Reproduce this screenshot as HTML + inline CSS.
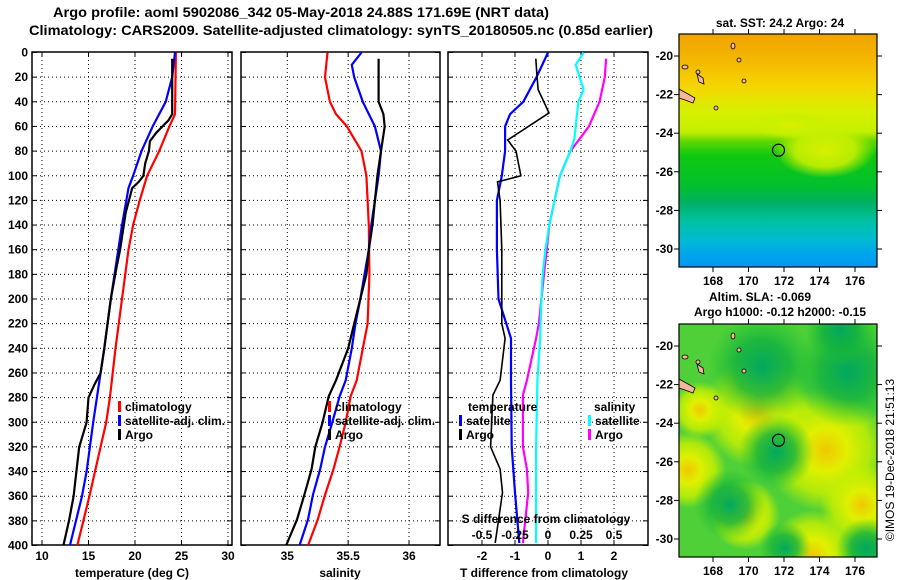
<!DOCTYPE html>
<html><head><meta charset="utf-8"><style>
html,body{margin:0;padding:0;background:#fff;}
svg{display:block;font-family:"Liberation Sans",sans-serif;font-weight:bold;}
text{font-size:12px;fill:#000;}
</style></head><body>
<svg id="fig" width="900" height="580" viewBox="0 0 900 580" xmlns="http://www.w3.org/2000/svg">
<defs>
 <clipPath id="cp1"><rect x="32" y="52" width="200" height="493"/></clipPath>
 <clipPath id="cp2"><rect x="241" y="52" width="199" height="493"/></clipPath>
 <clipPath id="cp3"><rect x="448" y="52" width="200" height="493"/></clipPath>
 <clipPath id="cpm1"><rect x="679" y="34" width="198" height="233"/></clipPath>
 <clipPath id="cpm2"><rect x="679" y="324" width="198" height="233"/></clipPath>
 <linearGradient id="sstg" x1="0" y1="34" x2="0" y2="267" gradientUnits="userSpaceOnUse">
  <stop offset="0" stop-color="#f0a400"/><stop offset="0.1" stop-color="#f4b400"/>
  <stop offset="0.22" stop-color="#f6d400"/><stop offset="0.33" stop-color="#d8f000"/>
  <stop offset="0.42" stop-color="#c4f000"/><stop offset="0.46" stop-color="#60d800"/>
  <stop offset="0.52" stop-color="#10c810"/><stop offset="0.66" stop-color="#00c030"/>
  <stop offset="0.72" stop-color="#00b060"/><stop offset="0.8" stop-color="#00c0a0"/>
  <stop offset="0.88" stop-color="#00bcd0"/><stop offset="0.95" stop-color="#00a4f0"/>
  <stop offset="1" stop-color="#0098f0"/>
 </linearGradient>
 <radialGradient id="yb"><stop offset="0" stop-color="#f0c800"/><stop offset="0.35" stop-color="#e0f000"/><stop offset="0.7" stop-color="#c8f000" stop-opacity="0.8"/><stop offset="1" stop-color="#c8f000" stop-opacity="0"/></radialGradient>
 <radialGradient id="yl"><stop offset="0" stop-color="#d8f000"/><stop offset="0.6" stop-color="#c8f000" stop-opacity="0.9"/><stop offset="1" stop-color="#c8f000" stop-opacity="0"/></radialGradient>
 <radialGradient id="db"><stop offset="0" stop-color="#00a860"/><stop offset="0.5" stop-color="#10b040" stop-opacity="0.8"/><stop offset="1" stop-color="#20c030" stop-opacity="0"/></radialGradient>
</defs>
<rect width="900" height="580" fill="#fff"/>
<text x="301" y="17" text-anchor="middle" textLength="496" lengthAdjust="spacingAndGlyphs" style="font-size:14px">Argo profile: aoml 5902086_342 05-May-2018 24.88S 171.69E (NRT data)</text>
<text x="341" y="35" text-anchor="middle" textLength="624" lengthAdjust="spacingAndGlyphs" style="font-size:14px">Climatology: CARS2009. Satellite-adjusted climatology: synTS_20180505.nc (0.85d earlier)</text>
<g id="panels"></g>
<g id="maps"></g>
<text transform="translate(894,460) rotate(-90)" text-anchor="middle" style="font-size:12px;font-weight:normal">©IMOS 19-Dec-2018 21:51:13</text>
</svg>
<script>
// ---- data (depth in m) ----
const depthTicks = [0,20,40,60,80,100,120,140,160,180,200,220,240,260,280,300,320,340,360,380,400];
const tempTicks = [10,15,20,25,30];
const salTicks = [35,35.5,36];
const tdiffTicks = [-2,-1,0,1,2];
const sdiffTicks = [-0.5,-0.25,0,0.25,0.5];
const sdiffLabels = ["-0.5","-0.25","0","0.25","0.5"];

const climTdepth = [0,50,60,80,100,120,140,160,200,240,280,300,340,360,400];
const climTval   = [24.4,24.3,23.7,22.6,21.3,20.5,19.8,19.3,18.6,17.9,17.3,16.9,15.7,15.1,13.8];
const satTdepth  = [0,20,40,60,80,100,110,140,160,200,240,260,300,340,360,400];
const satTval    = [24.3,24.0,23.3,21.9,20.7,19.8,19.3,18.6,18.2,17.4,16.7,16.3,15.5,14.8,14.3,13.0];
const argoTdepth = [5,20,50,55,65,72,80,90,100,105,110,130,160,175,200,240,260,270,280,300,315,320,360,380,400];
const argoTval   = [24.0,24.0,24.0,23.6,22.3,21.6,21.5,21.1,20.9,20.4,19.7,19.0,18.4,18.0,17.4,16.7,16.3,15.6,15.0,14.8,14.2,14.0,13.4,12.9,12.3];

const climSdepth = [0,20,40,50,60,70,80,100,140,180,220,266,279,300,320,338,359,379,400];
const climSval   = [35.33,35.31,35.35,35.40,35.49,35.55,35.61,35.65,35.67,35.675,35.66,35.57,35.52,35.48,35.43,35.38,35.31,35.25,35.17];
const satSdepth  = [0,10,20,40,60,80,100,140,160,200,220,240,266,279,300,320,338,359,379,400];
const satSval    = [35.61,35.53,35.55,35.62,35.72,35.77,35.75,35.69,35.67,35.60,35.56,35.53,35.48,35.43,35.37,35.31,35.27,35.21,35.17,35.10];
const argoSdepth = [5,40,50,60,80,100,140,160,180,200,220,240,266,279,300,320,338,359,379,400];
const argoSval   = [35.75,35.75,35.79,35.80,35.77,35.74,35.70,35.67,35.65,35.60,35.55,35.50,35.40,35.34,35.29,35.23,35.20,35.14,35.08,34.99];

const satTdDepth = [0,20,40,50,60,80,100,120,160,200,232,266,320,357,398];
const satTdVal   = [0.0,-0.35,-0.75,-1.15,-1.3,-1.3,-1.4,-1.55,-1.55,-1.5,-1.12,-1.12,-1.1,-1.0,-0.87];
const argoTdDepth = [5,20,30,49,71,80,100,105,120,160,200,220,232,266,278,320,338,357,398];
const argoTdVal   = [-0.37,-0.33,-0.3,0.03,-1.22,-0.97,-0.82,-1.53,-1.45,-1.4,-1.4,-1.4,-1.3,-1.45,-1.67,-1.74,-1.45,-1.38,-1.6];
const satSdDepth = [0,10,20,30,40,60,70,80,100,120,140,160,180,200,232,266,320,398];
const satSdVal   = [0.27,0.21,0.24,0.27,0.23,0.21,0.2,0.17,0.09,0.05,0.01,-0.02,-0.04,-0.05,-0.06,-0.08,-0.09,-0.09];
const argoSdDepth = [5,20,40,60,70,80,100,140,160,180,200,220,232,266,278,320,338,357,398];
const argoSdVal   = [0.44,0.43,0.39,0.31,0.24,0.17,0.09,0.01,-0.01,-0.03,-0.05,-0.07,-0.09,-0.16,-0.19,-0.19,-0.16,-0.15,-0.19];

// ---- axis functions ----
const NS="http://www.w3.org/2000/svg";
const yD = d => 52.5 + d*1.2325;
const xT = t => 42 + (t-10)*9.3;
const xS = s => 287.3 + (s-35)*121.7;
const xTd = v => 548 + v*33;
const xSd = v => 548 + v*132;
function mk(tag, attrs, parent){const e=document.createElementNS(NS,tag);for(const k in attrs)e.setAttribute(k,attrs[k]);parent.appendChild(e);return e;}
const P=document.getElementById('panels');

function panel(x0,w,clip,name,xticks,xf){
  const g=mk('g',{},P);
  
  
  depthTicks.forEach(d=>{ if(d>0&&d<400) mk('line',{x1:x0,x2:x0+w,y1:yD(d),y2:yD(d),stroke:'#000','stroke-width':1,'stroke-dasharray':'1,3'},g);
    mk('line',{x1:x0,x2:x0+5,y1:yD(d),y2:yD(d),stroke:'#000'},g); mk('line',{x1:x0+w-5,x2:x0+w,y1:yD(d),y2:yD(d),stroke:'#000'},g);});
  xticks.forEach(t=>{const x=xf(t); mk('line',{x1:x,x2:x,y1:52,y2:545,stroke:'#000','stroke-dasharray':'1,3'},g);
    mk('line',{x1:x,x2:x,y1:52,y2:57,stroke:'#000'},g); mk('line',{x1:x,x2:x,y1:540,y2:545,stroke:'#000'},g);});
  mk('rect',{x:x0,y:52,width:w,height:493,fill:'none',stroke:'#000','stroke-width':1.5},g);
  return g;
}
function line(g,ds,vs,xf,col,name,wdt){
  const p=mk('polyline',{points:ds.map((d,i)=>xf(vs[i]).toFixed(1)+','+yD(d).toFixed(1)).join(' '),fill:'none',stroke:col,'stroke-width':wdt||2.2,'clip-path':'url(#'+g.clip+')'},g);
  
  
}
function txt(g,x,y,s,anchor,name,size){const t=mk('text',{x:x,y:y,'text-anchor':anchor||'start'},g);t.textContent=s;if(size)t.style.fontSize=size+'px';
  
  
  return t;}
function legend(g,x,y,col,label){mk('rect',{x:x,y:y-10,width:3,height:11,fill:col},g);
  txt(g,x+7,y,label,'start','legend-entry');}

// panel 1
const g1=panel(32,200,'cp1','temperature-panel',tempTicks,xT); g1.clip='cp1';
depthTicks.forEach(d=>txt(g1,28,yD(d)+4,String(d),'end','y-tick-label'));
tempTicks.forEach(t=>txt(g1,xT(t),560,String(t),'middle','x-tick-label'));
txt(g1,132,577,'temperature (deg C)','middle','x-axis-title');
line(g1,climTdepth,climTval,xT,'#ff0000','clim-temp-line');
line(g1,satTdepth,satTval,xT,'#0000ff','sat-temp-line');
line(g1,argoTdepth,argoTval,xT,'#000000','argo-temp-line');
legend(g1,118,411,'#ff0000','climatology');
legend(g1,118,425,'#0000ff','satellite-adj. clim.');
legend(g1,118,439,'#000000','Argo');

// panel 2
const g2=panel(241,199,'cp2','salinity-panel',salTicks,xS); g2.clip='cp2';
salTicks.forEach(t=>txt(g2,xS(t),560,String(t),'middle','x-tick-label'));
txt(g2,340,577,'salinity','middle','x-axis-title');
line(g2,climSdepth,climSval,xS,'#ff0000','clim-sal-line');
line(g2,satSdepth,satSval,xS,'#0000ff','sat-sal-line');
line(g2,argoSdepth,argoSval,xS,'#000000','argo-sal-line');
legend(g2,328,411,'#ff0000','climatology');
legend(g2,328,425,'#0000ff','satellite-adj. clim.');
legend(g2,328,439,'#000000','Argo');

// panel 3
const g3=panel(448,200,'cp3','difference-panel',tdiffTicks,xTd); g3.clip='cp3';
line(g3,satTdDepth,satTdVal,xTd,'#0000ff','sat-tdiff-line');
line(g3,argoTdDepth,argoTdVal,xTd,'#000000','argo-tdiff-line',1.6);
line(g3,argoSdDepth,argoSdVal,xSd,'#ff00ff','argo-sdiff-line');
line(g3,satSdDepth,satSdVal,xSd,'#00ffff','sat-sdiff-line');
tdiffTicks.forEach(t=>txt(g3,xTd(t),560,String(t),'middle','t-diff-tick-label'));
sdiffTicks.forEach((t,i)=>txt(g3,xSd(t),539,sdiffLabels[i],'middle','s-diff-tick-label'));
txt(g3,546,523,'S difference from climatology','middle','s-diff-axis-title');
txt(g3,544,577,'T difference from climatology','middle','t-diff-axis-title');
txt(g3,468,411,'temperature','start','legend-title-temperature');
legend(g3,459,425,'#0000ff','satellite');
legend(g3,459,439,'#000000','Argo');
txt(g3,594,411,'salinity','start','legend-title-salinity');
legend(g3,588,425,'#00ffff','satellite');
legend(g3,588,439,'#ff00ff','Argo');

// ---- maps ----
const M=document.getElementById('maps');
const lonTicks=[168,170,172,174,176];
const latTicks=[-20,-22,-24,-26,-28,-30];
const xLon = l => 713 + (l-168)*17.75;
const argoLon = 171.69, argoLat = -24.88;
function mapFrame(top,name,clip,fill){
  const g=mk('g',{},M);
  
  
  const yLat = l => top+22 + (-20-l)*19.3;
  const inner=mk('g',{'clip-path':'url(#'+clip+')'},g);
  fill(inner,yLat);
  // islands
  [[685,top+33,3,2],[698,top+38,2,2],[733,top+12,2,3],[739,top+26,2,2],[744,top+47,2,2],[716,top+74,2,2]].forEach(a=>mk('ellipse',{cx:a[0],cy:a[1],rx:a[2],ry:a[3],fill:'#f4b898',stroke:'#000','stroke-width':0.8},inner));
  mk('path',{d:`M697 ${top+40} L703 ${top+44} L704 ${top+50} L699 ${top+48} Z`,fill:'#f4b898',stroke:'#000','stroke-width':0.8},inner);
  mk('path',{d:`M679 ${top+55} L688 ${top+60} L695 ${top+64} L693 ${top+69} L685 ${top+66} L679 ${top+64} Z`,fill:'#f4b898',stroke:'#000','stroke-width':0.8},inner);
  const c=mk('circle',{cx:xLon(argoLon),cy:yLat(argoLat),r:6,fill:'none',stroke:'#000','stroke-width':1.2},g);
  
  
  mk('rect',{x:679,y:top,width:198,height:233,fill:'none',stroke:'#000','stroke-width':1.2},g);
  lonTicks.forEach(l=>{mk('line',{x1:xLon(l),x2:xLon(l),y1:top+233,y2:top+238,stroke:'#000'},g);mk('line',{x1:xLon(l),x2:xLon(l),y1:top,y2:top-5,stroke:'#000'},g);
    txt(g,xLon(l),top+251,String(l),'middle','lon-tick-label');});
  latTicks.forEach(l=>{mk('line',{x1:674,x2:679,y1:yLat(l),y2:yLat(l),stroke:'#000'},g);mk('line',{x1:877,x2:882,y1:yLat(l),y2:yLat(l),stroke:'#000'},g);
    txt(g,673,yLat(l)+4,String(l),'end','lat-tick-label');});
  return g;
}
mapFrame(34,'sst-map','cpm1',(g,yLat)=>{
  mk('rect',{x:679,y:34,width:198,height:233,fill:'url(#sstg)'},g);
  mk('ellipse',{cx:825,cy:150,rx:50,ry:28,fill:'url(#yl)'},g);
  mk('ellipse',{cx:790,cy:125,rx:40,ry:14,fill:'url(#yl)'},g);
});
txt(M,780,27,'sat. SST: 24.2 Argo: 24','middle','sst-map-title');
mapFrame(324,'sla-map','cpm2',(g,yLat)=>{
  mk('rect',{x:679,y:324,width:198,height:233,fill:'#50d038'},g);
  [[757,412,55],[826,450,62],[813,555,45],[862,505,42],[688,470,38],[745,515,35],[700,410,28]].forEach(a=>mk('circle',{cx:a[0],cy:a[1],r:a[2],fill:'url(#yb)'},g));
  [[762,368,55],[848,372,55],[776,452,38],[730,505,36],[785,548,26],[866,548,30],[840,330,35]].forEach(a=>mk('circle',{cx:a[0],cy:a[1],r:a[2],fill:'url(#db)'},g));
});
txt(M,760,301,'Altim. SLA: -0.069','middle','sla-map-title');
txt(M,780,316,'Argo h1000: -0.12 h2000: -0.15','middle','sla-map-subtitle');
</script>
</body></html>
